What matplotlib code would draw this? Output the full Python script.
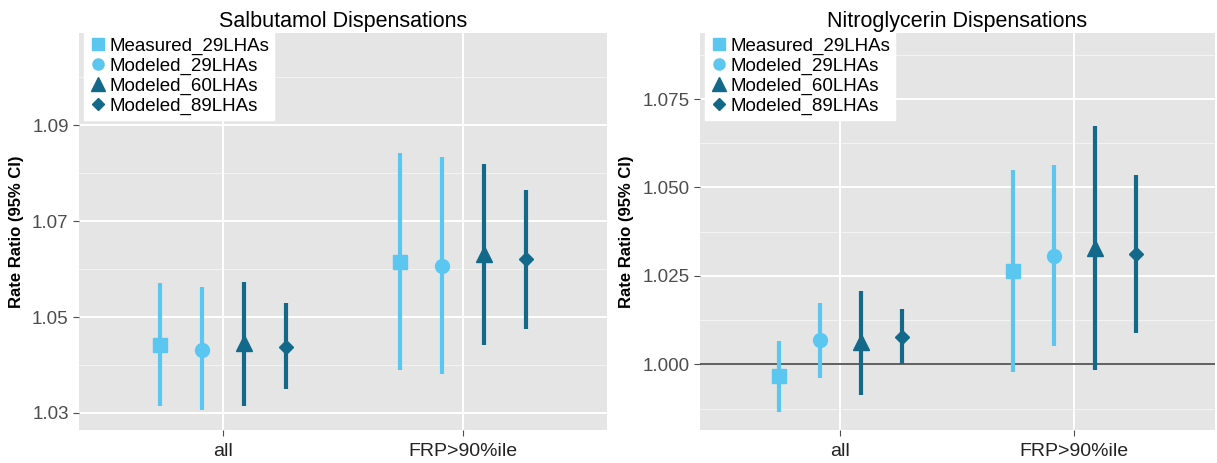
import matplotlib
matplotlib.use("Agg")
import matplotlib.pyplot as plt
import numpy as np

plt.rcParams["font.family"] = ["Liberation Sans", "DejaVu Sans"]

categories = ["all", "FRP>90%ile"]
series = ["Measured_29LHAs", "Modeled_29LHAs", "Modeled_60LHAs", "Modeled_89LHAs"]

# salbutamol: estimate, lower, upper per category
salb_est = [[1.0441, 1.0614], [1.0432, 1.0607], [1.0445, 1.0631], [1.0438, 1.0621]]
salb_lo = [[1.0315, 1.0390], [1.0305, 1.0381], [1.0315, 1.0441], [1.0350, 1.0476]]
salb_hi = [[1.0571, 1.0843], [1.0563, 1.0833], [1.0573, 1.0820], [1.0529, 1.0766]]

# nitroglycerin
nitro_est = [[0.9967, 1.0264], [1.0069, 1.0307], [1.0064, 1.0328], [1.0076, 1.0311]]
nitro_lo = [[0.9866, 0.9979], [0.9960, 1.0053], [0.9913, 0.9984], [1.0000, 1.0089]]
nitro_hi = [[1.0067, 1.0550], [1.0174, 1.0564], [1.0208, 1.0674], [1.0156, 1.0535]]

LIGHT = "#5BC6F0"
DARK = "#13698A"
colors = [LIGHT, LIGHT, DARK, DARK]
markers = ["s", "o", "^", "D"]
msizes = [10, 10, 12, 7.5]
offsets = [-0.2625, -0.0875, 0.0875, 0.2625]

fig = plt.figure(figsize=(12.17, 4.63), dpi=100)
ax1 = fig.add_axes([0.065, 0.071, 0.434, 0.858])
ax2 = fig.add_axes([0.575, 0.071, 0.423, 0.858])

panels = [
    (ax1, "Salbutamol Dispensations", salb_est, salb_lo, salb_hi,
     (1.0264, 1.1093), [1.03, 1.05, 1.07, 1.09], [1.04, 1.06, 1.08, 1.10], "{:.2f}", False),
    (ax2, "Nitroglycerin Dispensations", nitro_est, nitro_lo, nitro_hi,
     (0.9814, 1.0937), [1.000, 1.025, 1.050, 1.075], [0.9875, 1.0125, 1.0375, 1.0625, 1.0875], "{:.3f}", True),
]

x = np.arange(1, len(categories) + 1)
for ax, title, est, lo, hi, ylim, majors, minors, fmt, refline in panels:
    ax.set_facecolor("#E5E5E5")
    for m in minors:
        ax.axhline(m, color="#F2F2F2", lw=0.8, zorder=0)
    for m in majors:
        ax.axhline(m, color="white", lw=1.4, zorder=0)
    for xi in x:
        ax.axvline(xi, color="white", lw=1.4, zorder=0)
    if refline:
        ax.axhline(1.0, color="#444444", lw=1.2, zorder=1)
    for i, name in enumerate(series):
        xs = x + offsets[i]
        ax.vlines(xs, lo[i], hi[i], color=colors[i], lw=3, zorder=2)
        ax.plot(xs, est[i], ls="none", marker=markers[i], ms=msizes[i],
                color=colors[i], mec=colors[i], zorder=3, label=name)
    ax.set_xlim(0.4, 2.6)
    ax.set_ylim(*ylim)
    ax.set_xticks(x)
    ax.set_xticklabels(categories, fontsize=14, color="#222222")
    ax.set_yticks(majors)
    ax.set_yticklabels([fmt.format(v) for v in majors], fontsize=13.5, color="#4D4D4D")
    ax.tick_params(axis="both", length=4, color="#4D4D4D")
    ax.tick_params(axis="x", pad=5)
    for s in ax.spines.values():
        s.set_visible(False)
    ax.set_title(title, fontsize=15.5, pad=4)
    ax.set_ylabel("Rate Ratio (95% CI)", fontsize=12, fontweight="bold", labelpad=6)
    leg = ax.legend(loc="upper left", bbox_to_anchor=(0.01, 1.0), frameon=True,
                    fontsize=13.5, handletextpad=0.1, borderpad=0.25,
                    labelspacing=0.15, handlelength=1.0, borderaxespad=0.0,
                    markerscale=0.8, fancybox=False)
    leg.get_frame().set_facecolor("white")
    leg.get_frame().set_edgecolor("white")
    leg.get_frame().set_alpha(1)

fig.savefig("out.png", dpi=100)
